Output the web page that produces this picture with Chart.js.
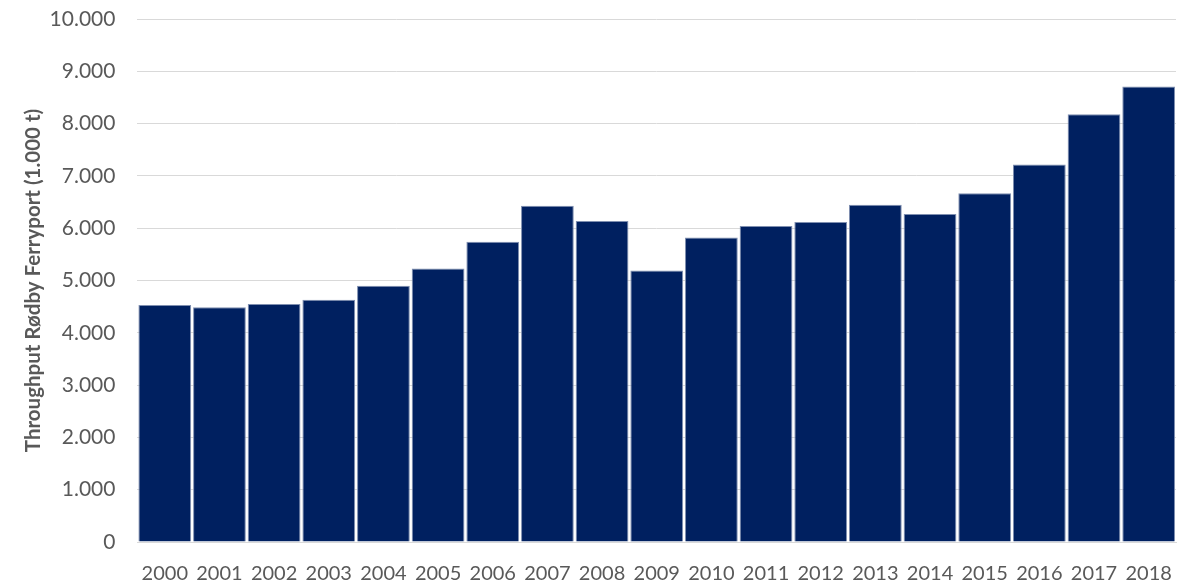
<!DOCTYPE html>
<html lang="en">
  <head>
    <meta charset="UTF-8" />
    <title>Rødby Ferryport</title>
    <script src="https://cdn.jsdelivr.net/npm/chart.js@4/dist/chart.umd.min.js"></script>
    <style>
      html, body { margin: 0; padding: 0; background: #fff; }
      #wrap { width: 1186px; height: 583px; position: relative; }
    </style>
  </head>
  <body>
    <div id="wrap"><canvas id="ferryChart"></canvas></div>
    <script>
      const years = ["2000", "2001", "2002", "2003", "2004", "2005", "2006", "2007", "2008", "2009",
        "2010", "2011", "2012", "2013", "2014", "2015", "2016", "2017", "2018"];
      const throughput = [4530, 4490, 4550, 4630, 4900, 5230, 5740, 6430, 6140, 5190,
        5820, 6040, 6120, 6450, 6270, 6670, 7220, 8180, 8710];
      const yMax = 10000;
      const yStep = 1000;

      function fmt(v) {
        return String(v).replace(/\B(?=(\d{3})+(?!\d))/g, ".");
      }

      const ctx = document.querySelector("#ferryChart").getContext("2d");
      const myChart = new Chart(ctx, {
        type: "bar",
        data: {
          labels: years,
          datasets: [
            {
              label: "Throughput",
              data: throughput,
              backgroundColor: "#002060",
              borderColor: "#7f8fb0",
              borderWidth: 1,
              barPercentage: 0.965,
              categoryPercentage: 1,
            },
          ],
        },
        options: {
          responsive: true,
          maintainAspectRatio: false,
          animation: false,
          layout: { padding: { top: 19, right: 10, left: 21, bottom: -15 } },
          plugins: { legend: { display: false }, tooltip: { enabled: false } },
          scales: {
            x: {
              grid: { display: false },
              border: { color: "#d9d9d9" },
              ticks: { color: "#595959", font: { family: "Lato", size: 20 }, padding: 12, maxRotation: 0 },
            },
            y: {
              min: 0,
              max: yMax,
              ticks: {
                stepSize: yStep,
                color: "#595959",
                font: { family: "Lato", size: 21 },
                padding: 4,
                callback: function (v) { return fmt(v); },
              },
              grid: { color: "#d9d9d9", drawTicks: true, tickLength: 18, tickColor: "rgba(0,0,0,0)" },
              border: { display: false },
              title: {
                display: true,
                text: "Throughput Rødby Ferryport (1.000 t)",
                color: "#595959",
                font: { family: "Lato", size: 20.5, weight: "bold" },
                padding: { top: 0, bottom: 0 },
              },
            },
          },
        },
      });
    </script>
  </body>
</html>
